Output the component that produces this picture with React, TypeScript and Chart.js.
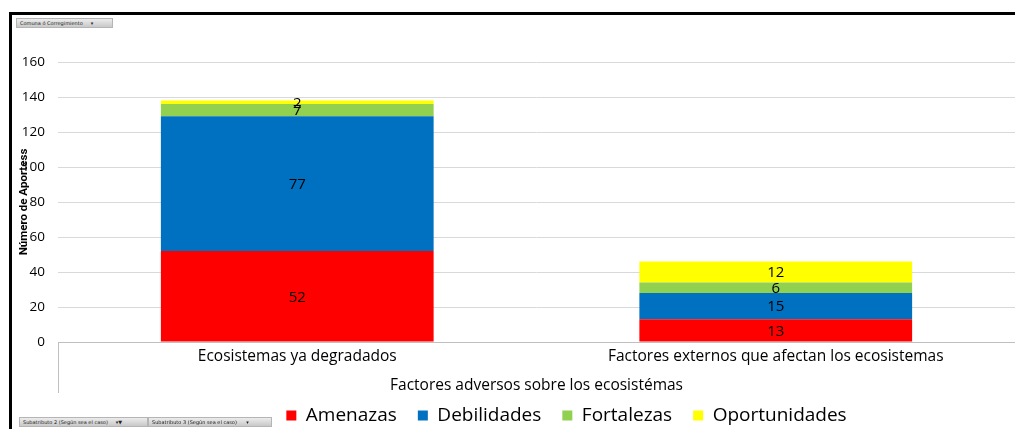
import React, { useEffect, useRef } from "react";
import { Chart, registerables } from "chart.js";

Chart.register(...registerables);

const categories = ["Ecosistemas ya degradados", "Factores externos que afectan los ecosistemas"];
const seriesNames = ["Amenazas", "Debilidades", "Fortalezas", "Oportunidades"];
const amenazas = [52, 13];
const debilidades = [77, 15];
const fortalezas = [7, 6];
const oportunidades = [2, 12];
const seriesColors = ["#FF0000", "#0070C0", "#92D050", "#FFFF00"];
const yTicks = [0, 20, 40, 60, 80, 100, 120, 140, 160];
const yTitle = "Número de Aportess";
const xTitle = "Factores adversos sobre los ecosistémas";

const FONT = "'Open Sans', 'DejaVu Sans', sans-serif";

const valueLabels = {
  id: "valueLabels",
  afterDatasetsDraw(chart: any) {
    const ctx = chart.ctx;
    ctx.save();
    ctx.font = `15px ${FONT}`;
    ctx.fillStyle = "#000";
    ctx.textAlign = "center";
    ctx.textBaseline = "middle";
    chart.data.datasets.forEach((ds: any, i: number) => {
      const meta = chart.getDatasetMeta(i);
      meta.data.forEach((el: any, j: number) => {
        const v = ds.data[j];
        const p = el.getProps(["x", "y", "base"], true);
        ctx.fillText(String(v), p.x, (p.y + p.base) / 2 + 1);
      });
    });
    ctx.restore();
  },
};

const catDivider = {
  id: "catDivider",
  afterDraw(chart: any) {
    const { ctx, chartArea } = chart;
    ctx.save();
    ctx.strokeStyle = "#bfbfbf";
    ctx.lineWidth = 1;
    ctx.beginPath();
    ctx.moveTo(chartArea.left + 0.5, chartArea.bottom);
    ctx.lineTo(chartArea.left + 0.5, chartArea.bottom + 51);
    ctx.stroke();
    ctx.restore();
  },
};

const legendShift = {
  id: "legendShift",
  afterLayout(chart: any) {
    const lg = chart.legend;
    if (lg) {
      lg.left += 59;
      lg.right += 59;
    }
  },
};

function App() {
  const ref = useRef<HTMLCanvasElement>(null);
  useEffect(() => {
    const values = [amenazas, debilidades, fortalezas, oportunidades];
    const chart = new Chart(ref.current!, {
      type: "bar",
      data: {
        labels: categories,
        datasets: seriesNames.map((n, i) => ({
          label: n,
          data: values[i],
          backgroundColor: seriesColors[i],
          borderWidth: 0,
          categoryPercentage: 1,
          barPercentage: 0.57,
        })),
      },
      options: {
        animation: false,
        responsive: false,
        maintainAspectRatio: false,
        layout: { padding: { top: 62, left: 0, right: 0, bottom: -6 } },
        plugins: {
          legend: {
            position: "bottom",
            labels: {
              boxWidth: 10,
              boxHeight: 10,
              padding: 21,
              color: "#000",
              font: { family: FONT, size: 19 },
            },
          },
          tooltip: { enabled: false },
        },
        scales: {
          x: {
            stacked: true,
            grid: { display: false, drawTicks: false },
            border: { display: true, color: "#bfbfbf" },
            ticks: { color: "#000", font: { family: FONT, size: 15.5 }, padding: 5, maxRotation: 0 },
            title: {
              display: true,
              text: xTitle,
              color: "#000",
              font: { family: FONT, size: 15.5 },
              padding: { top: 0, bottom: -10 },
            },
            afterFit(scale: any) {
              scale.height = 43;
            },
          },
          y: {
            stacked: true,
            min: 0,
            max: 160,
            afterBuildTicks(scale: any) {
              scale.ticks = yTicks.map((v) => ({ value: v }));
            },
            grid: { color: "#d9d9d9", drawTicks: false },
            border: { display: false },
            ticks: { color: "#000", font: { family: FONT, size: 13.5 }, padding: 13 },
            title: {
              display: true,
              text: yTitle,
              color: "#000",
              font: { family: "Roboto, 'Liberation Sans', sans-serif", size: 11.5, weight: "bold" },
              padding: { top: 17, bottom: 0 },
            },
            afterFit(scale: any) {
              scale.width = 58;
            },
          },
        },
      },
      plugins: [valueLabels, catDivider, legendShift],
    } as any);
    return () => chart.destroy();
  }, []);

  const btn: React.CSSProperties = {
    position: "absolute",
    height: 8,
    background: "linear-gradient(#ececec, #c8c8c8)",
    border: "1px solid #b5b5b5",
    fontFamily: "'DejaVu Sans', sans-serif",
    fontSize: 5,
    lineHeight: "8px",
    color: "#222",
    paddingLeft: 3,
    boxSizing: "content-box",
    whiteSpace: "nowrap",
    overflow: "hidden",
  };

  return (
    <div style={{ position: "fixed", left: 0, top: 0, width: 1015, height: 429, background: "#fff", overflow: "hidden" }}>
      <canvas ref={ref} width={1015} height={429} style={{ position: "absolute", left: 0, top: 0, width: 1015, height: 429 }} />
      <div style={{ position: "absolute", left: 9, top: 12, width: 1006, height: 3, background: "#000" }} />
      <div style={{ position: "absolute", left: 9, top: 12, width: 3, height: 417, background: "#000" }} />
      <div style={{ ...btn, left: 16, top: 18, width: 92 }}>Comuna ó Corregimiento&nbsp;&nbsp;&nbsp;&nbsp;&nbsp;▾</div>
      <div style={{ ...btn, left: 19, top: 417, width: 124 }}>Subatributo 2 (Según sea el caso)&nbsp;&nbsp;&nbsp;&nbsp;&nbsp;▾▼</div>
      <div style={{ ...btn, left: 148, top: 417, width: 119 }}>Subatributo 3 (Según sea el caso)&nbsp;&nbsp;&nbsp;&nbsp;&nbsp;&nbsp;▾</div>
    </div>
  );
}

export default App;
